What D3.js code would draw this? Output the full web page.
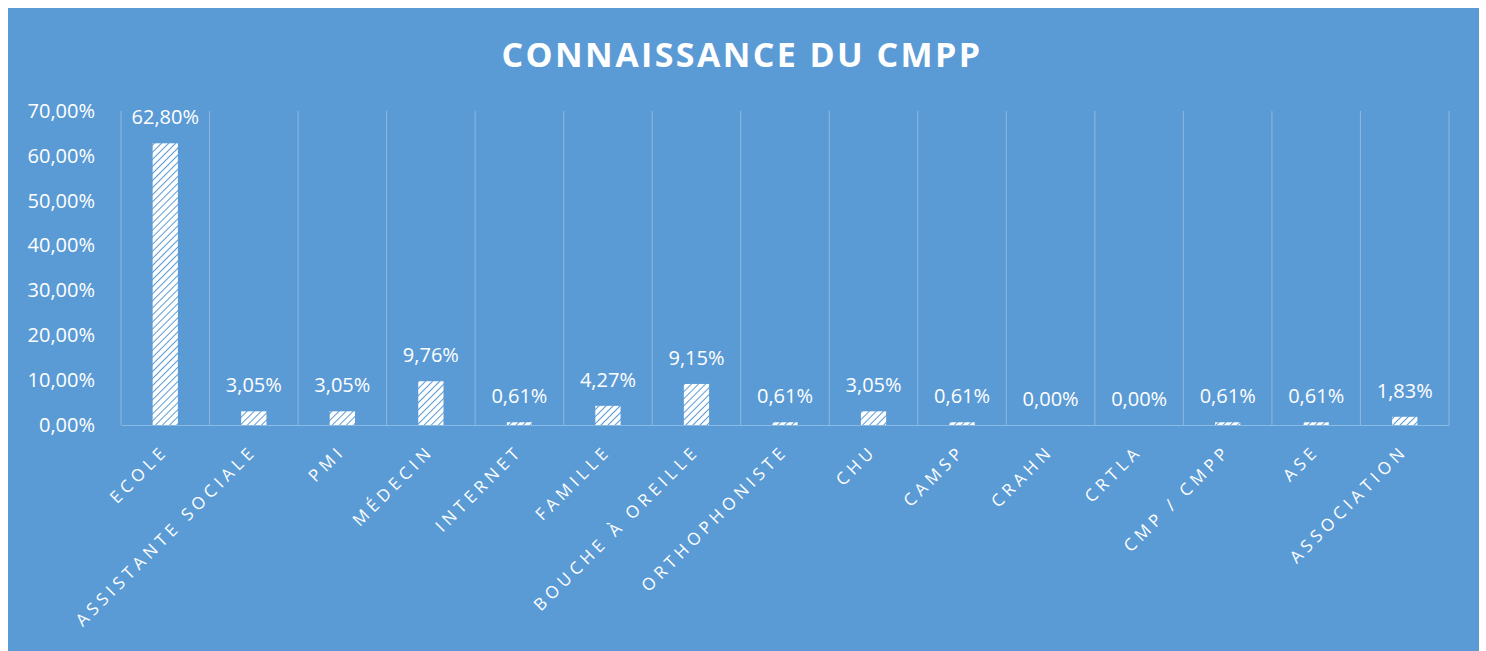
<!DOCTYPE html>
<html>
<head>
<meta charset="utf-8">
<script src="https://cdn.jsdelivr.net/npm/d3@7"></script>
<style>
  body { margin: 0; background: #fff; }
  svg text { font-family: "Open Sans", sans-serif; fill: #fff; }
</style>
</head>
<body>
<div id="chart"></div>
<script>
// Data
const categories = ["ECOLE", "ASSISTANTE SOCIALE", "PMI", "MÉDECIN", "INTERNET", "FAMILLE",
  "BOUCHE À OREILLE", "ORTHOPHONISTE", "CHU", "CAMSP", "CRAHN", "CRTLA", "CMP / CMPP", "ASE", "ASSOCIATION"];
const values = [62.80, 3.05, 3.05, 9.76, 0.61, 4.27, 9.15, 0.61, 3.05, 0.61, 0.00, 0.00, 0.61, 0.61, 1.83];
const yTicks = [0, 10, 20, 30, 40, 50, 60, 70];
const title = "CONNAISSANCE DU CMPP";

const width = 1486, height = 651;
const margin = { top: 111, right: 37, bottom: 226, left: 121 };
const blue = "#5b9bd5";
const gridColor = "#8ab9e3";

const fmt = v => v.toFixed(2).replace(".", ",") + "%";

const svg = d3.select("#chart")
  .append("svg")
  .attr("width", width)
  .attr("height", height);

// hatched fill for the bars
const defs = svg.append("defs");
const pat = defs.append("pattern")
  .attr("id", "hatch")
  .attr("patternUnits", "userSpaceOnUse")
  .attr("width", 5)
  .attr("height", 5)
  .attr("patternTransform", "rotate(45)");
pat.append("rect").attr("width", 5).attr("height", 5).attr("fill", "#fff");
pat.append("line")
  .attr("x1", 0).attr("y1", 0).attr("x2", 0).attr("y2", 5)
  .attr("stroke", blue).attr("stroke-width", 2);

// chart background
svg.append("rect")
  .attr("x", 8).attr("y", 8)
  .attr("width", 1471).attr("height", height - 8)
  .attr("fill", blue);

// scales
const x = d3.scaleBand()
  .domain(categories)
  .range([margin.left, width - margin.right])
  .padding(0);

const y = d3.scaleLinear()
  .domain([0, 70])
  .range([height - margin.bottom, margin.top]);

const barW = x.bandwidth() * 0.285;

// vertical gridlines at category boundaries
const bounds = categories.map(c => x(c)).concat([x.range()[1]]);
svg.append("g")
  .selectAll("line")
  .data(bounds)
  .enter()
  .append("line")
  .attr("x1", d => d).attr("x2", d => d)
  .attr("y1", y(70)).attr("y2", y(0))
  .attr("stroke", gridColor)
  .attr("stroke-width", 1);

// y axis labels
const yAxis = svg.append("g")
  .attr("transform", `translate(${margin.left - 23},0)`)
  .call(d3.axisLeft(y).tickValues(yTicks).tickSize(0).tickFormat(d => fmt(d)));
yAxis.select(".domain").remove();
yAxis.selectAll("text")
  .attr("font-size", "20px")
  .attr("fill", "#fff")
  .attr("dx", 0);

// x axis
const xAxis = svg.append("g")
  .attr("transform", `translate(0,${y(0)})`)
  .call(d3.axisBottom(x).tickSize(0));
xAxis.select(".domain").attr("stroke", gridColor).attr("stroke-width", 1.2);
xAxis.selectAll("text")
  .attr("font-size", "17px")
  .attr("fill", "#fff")
  .attr("letter-spacing", "4.5px")
  .attr("text-anchor", "end")
  .attr("dy", 0)
  .attr("transform", "translate(2,25) rotate(-45)");

// bars
svg.selectAll("rect.bar")
  .data(values)
  .enter()
  .append("rect")
  .attr("class", "bar")
  .attr("x", (d, i) => x(categories[i]) + (x.bandwidth() - barW) / 2)
  .attr("y", d => y(d))
  .attr("width", barW)
  .attr("height", d => y(0) - y(d))
  .attr("fill", "url(#hatch)");

// data labels
svg.selectAll("text.val")
  .data(values)
  .enter()
  .append("text")
  .attr("class", "val")
  .attr("x", (d, i) => x(categories[i]) + x.bandwidth() / 2)
  .attr("y", d => y(d) - 26)
  .attr("dy", "0.35em")
  .attr("text-anchor", "middle")
  .attr("font-size", "20px")
  .text(d => fmt(d));

// title
svg.append("text")
  .attr("x", width / 2 - 1)
  .attr("y", 55)
  .attr("dy", "0.35em")
  .attr("text-anchor", "middle")
  .attr("font-size", "34px")
  .attr("font-weight", "bold")
  .attr("letter-spacing", "2.4px")
  .text(title);
</script>
</body>
</html>
